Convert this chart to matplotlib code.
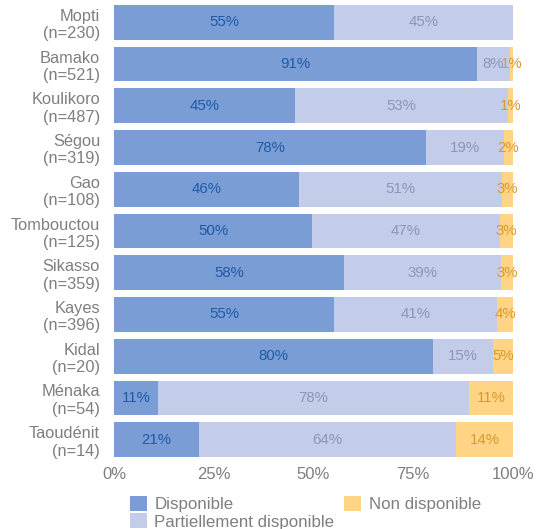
import matplotlib
matplotlib.use("Agg")
import matplotlib.pyplot as plt
from matplotlib.ticker import FuncFormatter

plt.rcParams['font.family'] = ['Liberation Sans', 'DejaVu Sans']

regions = ["Mopti", "Bamako", "Koulikoro", "Ségou", "Gao", "Tombouctou",
           "Sikasso", "Kayes", "Kidal", "Ménaka", "Taoudénit"]
counts = [230, 521, 487, 319, 108, 125, 359, 396, 20, 54, 14]
disponible = [55.2, 91.0, 45.4, 78.3, 46.3, 49.6, 57.7, 55.1, 80.0, 11.1, 21.4]
partiel = [44.8, 8.2, 53.4, 19.4, 50.9, 47.2, 39.3, 40.9, 15.0, 77.8, 64.3]
non_dispo = [0.0, 0.8, 1.2, 2.3, 2.8, 3.2, 3.0, 4.0, 5.0, 11.1, 14.3]
series_names = ["Disponible", "Partiellement disponible", "Non disponible"]

colors = ["#7a9dd5", "#c3cde9", "#ffd485"]
text_colors = ["#1f5aa6", "#8a97b9", "#d99a2b"]

fig = plt.figure(figsize=(5.47, 5.29), dpi=100)
ax = fig.add_axes([0.2084, 0.1361, 0.7294, 0.8544])

labels = [f"{r}\n(n={n})" for r, n in zip(regions, counts)]
y = list(range(len(regions)))
left = [0.0] * len(regions)
for vals, name, c, tc in zip([disponible, partiel, non_dispo], series_names, colors, text_colors):
    bars = ax.barh(y, vals, left=left, height=0.83, color=c, label=name)
    for yi, l, v in zip(y, left, vals):
        if v > 0:
            ax.text(l + v / 2, yi, f"{round(v)}%", ha="center", va="center",
                    color=tc, fontsize=10.8)
    left = [a + b for a, b in zip(left, vals)]

ax.set_xlim(0, 100)
ax.set_ylim(len(regions) - 1 + 0.415, -0.415)
ax.set_yticks(y)
ax.set_yticklabels(labels, fontsize=11.8, color="#7f7f7f", linespacing=1.2)
ax.set_xticks([0, 25, 50, 75, 100])
ax.xaxis.set_major_formatter(FuncFormatter(lambda v, p: f"{int(v)}%"))
ax.tick_params(axis="x", colors="#7f7f7f", labelsize=12, length=0, pad=7)
ax.tick_params(axis="y", length=0, pad=10)
for s in ax.spines.values():
    s.set_visible(False)

leg = fig.legend(loc="lower left", bbox_to_anchor=(0.209, -0.030), ncol=2,
                 frameon=False, fontsize=12.2, handlelength=1.0, handleheight=1.0,
                 handletextpad=0.45, columnspacing=0.6, labelspacing=0.05)
for t in leg.get_texts():
    t.set_color("#7f7f7f")

fig.savefig("out.png", dpi=100)
